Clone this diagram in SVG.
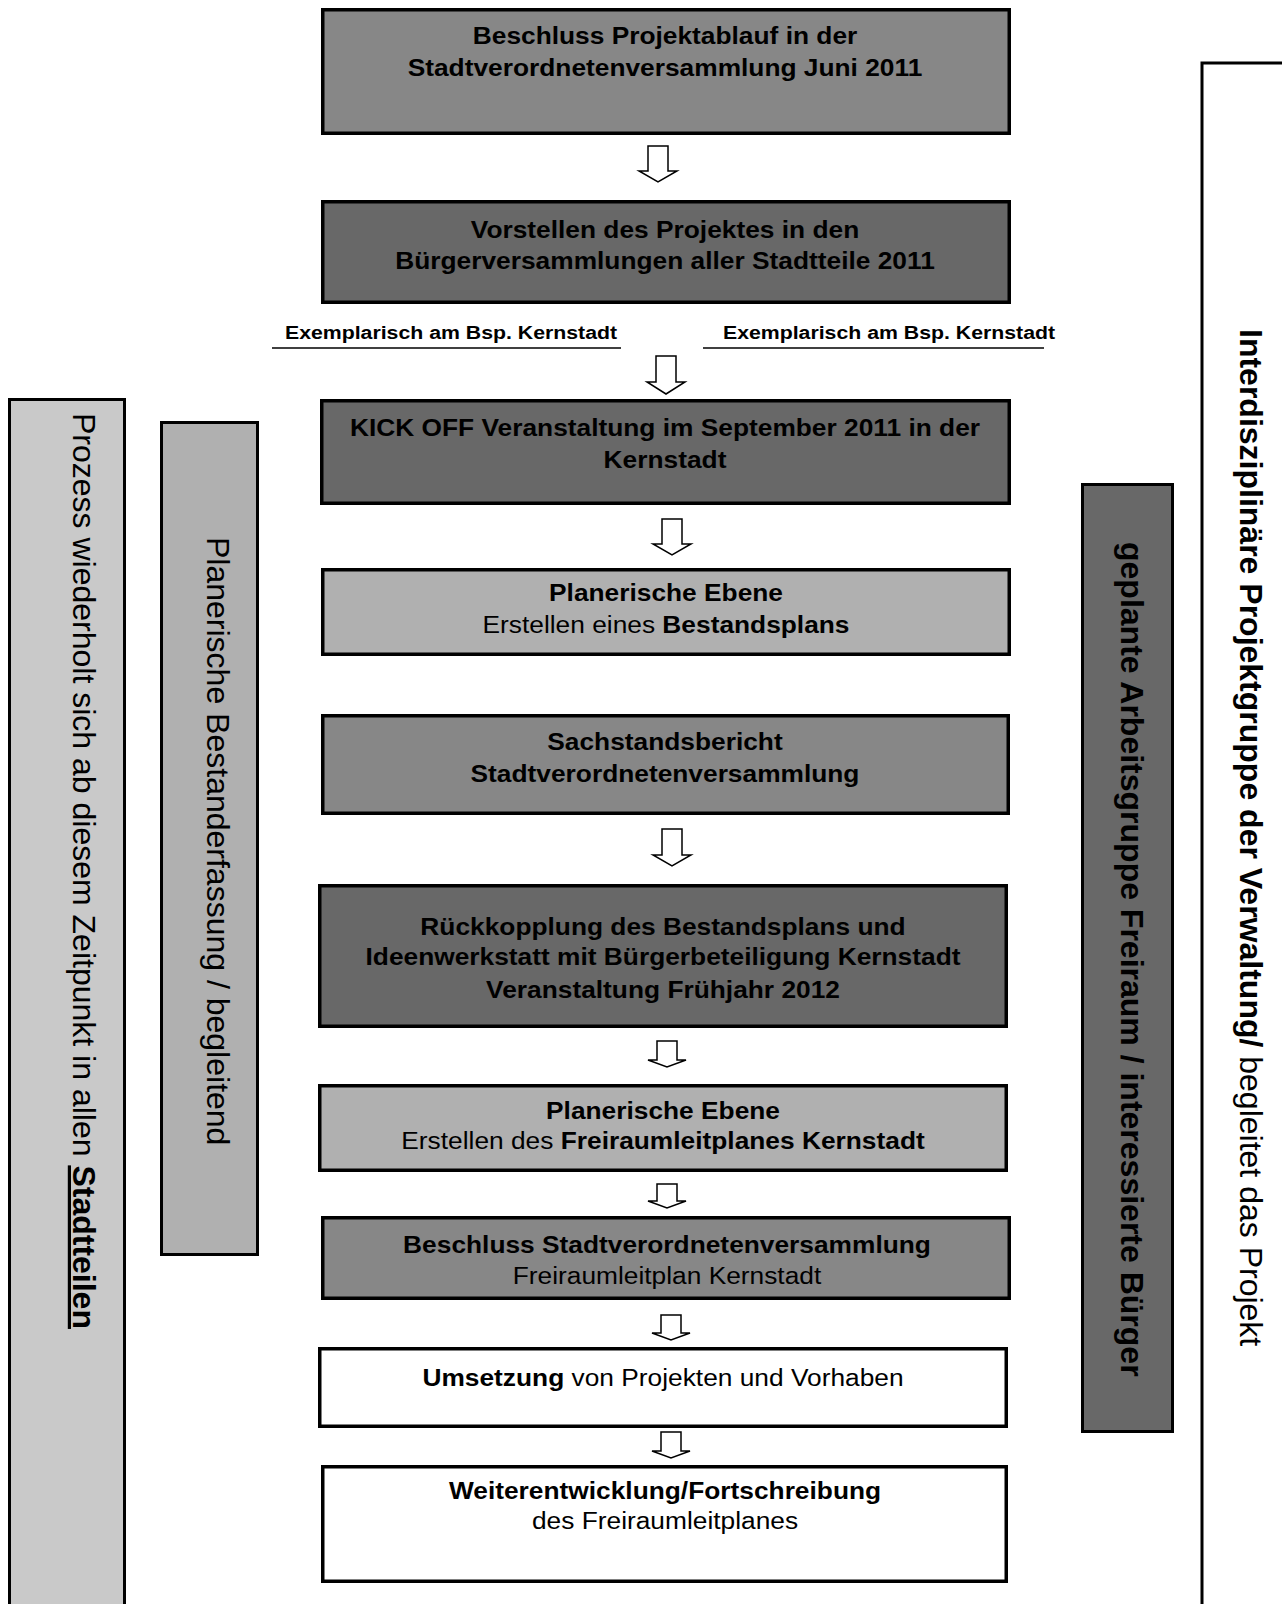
<svg xmlns="http://www.w3.org/2000/svg" width="1282" height="1604" viewBox="0 0 1282 1604">
<style>
.box{stroke:#000;stroke-width:3.5}
.bar{stroke:#000;stroke-width:3}
.d1{fill:#878787}
.d2{fill:#686868}
.l1{fill:#b0b0b0}
.l2{fill:#c9c9c9}
.w{fill:#fff}
text{font-family:"Liberation Sans",Arial,sans-serif;fill:#000}
.t{font-size:23.5px;text-anchor:middle}
.b{font-weight:bold}
.r{font-size:32px}
.arrow{fill:#fff;stroke:#000;stroke-width:1.5;stroke-linejoin:miter}
.ul{stroke:#000;stroke-width:1.5}
</style>
<rect width="1282" height="1604" fill="#fff"/>

<g id="side-prozess">
<rect class="bar l2" x="9.5" y="399.5" width="115" height="1220"/>
<text class="r" transform="translate(73,413) rotate(90)">Prozess wiederholt sich ab diesem Zeitpunkt in allen <tspan class="b" text-decoration="underline">Stadtteilen</tspan></text>
</g>

<g id="side-planerisch">
<rect class="bar l1" x="161.5" y="422.5" width="96" height="832"/>
<text class="r" transform="translate(207,537) rotate(90)">Planerische Bestanderfassung / begleitend</text>
</g>

<g id="side-arbeitsgruppe">
<rect class="bar d2" x="1082.5" y="484.5" width="90" height="947"/>
<text class="r b" transform="translate(1121,542) rotate(90)">geplante Arbeitsgruppe Freiraum / interessierte Bürger</text>
</g>

<g id="side-projektgruppe">
<path d="M1202,1606 V63 H1284" fill="none" stroke="#000" stroke-width="3"/>
<text class="r" transform="translate(1240,329) rotate(90)"><tspan class="b">Interdisziplinäre Projektgruppe der Verwaltung/</tspan> begleitet das Projekt</text>
</g>

<g id="label-left">
<text class="t b" style="font-size:19px" transform="translate(451,339) scale(1.12,1)">Exemplarisch am Bsp. Kernstadt</text>
<line class="ul" x1="272" y1="348" x2="621" y2="348"/>
</g>
<g id="label-right">
<text class="t b" style="font-size:19px" transform="translate(889,339) scale(1.12,1)">Exemplarisch am Bsp. Kernstadt</text>
<line class="ul" x1="703" y1="348" x2="1044" y2="348"/>
</g>

<g id="n1">
<rect class="box d1" x="322.75" y="9.75" width="686.5" height="123.5"/>
<text class="t b" transform="translate(665,44) scale(1.12,1)">Beschluss Projektablauf in der</text>
<text class="t b" transform="translate(665,76) scale(1.12,1)">Stadtverordnetenversammlung Juni 2011</text>
</g>

<g id="n2">
<rect class="box d2" x="322.75" y="201.75" width="686.5" height="100.5"/>
<text class="t b" transform="translate(665,238) scale(1.12,1)">Vorstellen des Projektes in den</text>
<text class="t b" transform="translate(665,269) scale(1.12,1)">Bürgerversammlungen aller Stadtteile 2011</text>
</g>

<g id="n3">
<rect class="box d2" x="321.75" y="400.75" width="687.5" height="102.5"/>
<text class="t b" transform="translate(665,436) scale(1.12,1)">KICK OFF Veranstaltung im September 2011 in der</text>
<text class="t b" transform="translate(665,468) scale(1.12,1)">Kernstadt</text>
</g>

<g id="n4">
<rect class="box l1" x="322.75" y="569.75" width="686.5" height="84.5"/>
<text class="t b" transform="translate(666,601) scale(1.12,1)">Planerische Ebene</text>
<text class="t" transform="translate(666,633) scale(1.12,1)">Erstellen eines <tspan class="b">Bestandsplans</tspan></text>
</g>

<g id="n5">
<rect class="box d1" x="322.75" y="715.75" width="685.5" height="97.5"/>
<text class="t b" transform="translate(665,750) scale(1.12,1)">Sachstandsbericht</text>
<text class="t b" transform="translate(665,782) scale(1.12,1)">Stadtverordnetenversammlung</text>
</g>

<g id="n6">
<rect class="box d2" x="319.75" y="885.75" width="686.5" height="140.5"/>
<text class="t b" transform="translate(663,935) scale(1.12,1)">Rückkopplung des Bestandsplans und</text>
<text class="t b" transform="translate(663,965) scale(1.12,1)">Ideenwerkstatt mit Bürgerbeteiligung Kernstadt</text>
<text class="t b" transform="translate(663,998) scale(1.12,1)">Veranstaltung Frühjahr 2012</text>
</g>

<g id="n7">
<rect class="box l1" x="319.75" y="1085.75" width="686.5" height="84.5"/>
<text class="t b" transform="translate(663,1119) scale(1.12,1)">Planerische Ebene</text>
<text class="t" transform="translate(663,1149) scale(1.12,1)">Erstellen des <tspan class="b">Freiraumleitplanes Kernstadt</tspan></text>
</g>

<g id="n8">
<rect class="box d1" x="322.75" y="1217.75" width="686.5" height="80.5"/>
<text class="t b" transform="translate(667,1253) scale(1.12,1)">Beschluss Stadtverordnetenversammlung</text>
<text class="t" transform="translate(667,1284) scale(1.12,1)">Freiraumleitplan Kernstadt</text>
</g>

<g id="n9">
<rect class="box w" x="319.75" y="1348.75" width="686.5" height="77.5"/>
<text class="t" transform="translate(663,1386) scale(1.12,1)"><tspan class="b">Umsetzung</tspan> von Projekten und Vorhaben</text>
</g>

<g id="n10">
<rect class="box w" x="322.75" y="1466.75" width="683.5" height="114.5"/>
<text class="t b" transform="translate(665,1499) scale(1.12,1)">Weiterentwicklung/Fortschreibung</text>
<text class="t" transform="translate(665,1529) scale(1.12,1)">des Freiraumleitplanes</text>
</g>

<g id="connectors">
<path class="arrow" d="M648,146 H668 V171 H677 L658,182 L639,171 H648 Z"/>
<path class="arrow" d="M656,356 H676 V382 H685 L666,394 L647,382 H656 Z"/>
<path class="arrow" d="M662,519 H682 V544 H691 L672,555 L653,544 H662 Z"/>
<path class="arrow" d="M662,829 H682 V855 H691 L672,866 L653,855 H662 Z"/>
<path class="arrow" d="M657,1041 H677 V1060 H686 L667,1067 L648,1060 H657 Z"/>
<path class="arrow" d="M657,1184 H677 V1201 H686 L667,1208 L648,1201 H657 Z"/>
<path class="arrow" d="M661,1315 H681 V1333 H690 L671,1340 L652,1333 H661 Z"/>
<path class="arrow" d="M661,1432 H681 V1451 H690 L671,1458 L652,1451 H661 Z"/>
</g>
</svg>
